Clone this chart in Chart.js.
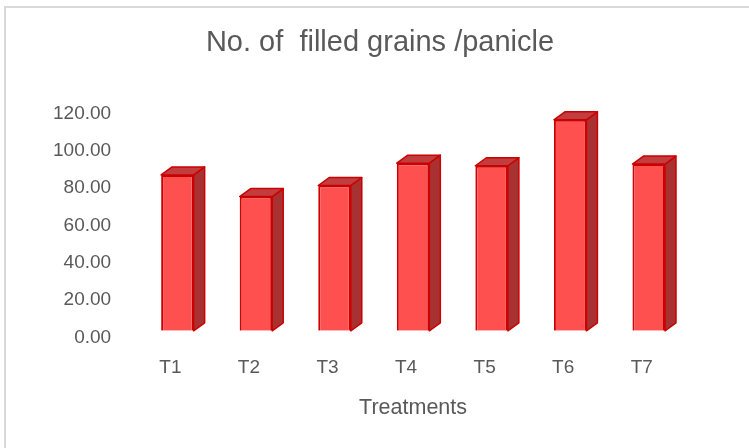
<!DOCTYPE html>
<html>
<head>
<meta charset="utf-8">
<script src="https://cdn.jsdelivr.net/npm/chart.js@4/dist/chart.umd.min.js"></script>
<style>
  html, body { margin: 0; padding: 0; background: #fff; }
  #wrap { position: relative; width: 749px; height: 448px; }
</style>
</head>
<body>
<div id="wrap"><canvas id="myChart" width="749" height="448"></canvas></div>
<script>
var categories = ["T1", "T2", "T3", "T4", "T5", "T6", "T7"];
var grains = [83.6, 72.0, 77.9, 89.9, 88.5, 113.1, 89.4];
var yTicks = [0, 20, 40, 60, 80, 100, 120];

var frontColor = 'rgb(255,80,80)';
var sideColor = 'rgb(168,50,50)';
var topColor = 'rgb(194,62,62)';
var edgeColor = 'rgb(204,0,0)';
var textColor = '#595959';
var font = '"Liberation Sans", Arial, sans-serif';

// fake 3d: side and top faces behind each front face
var box3d = {
    id: 'box3d',
    beforeDatasetsDraw: function (chart) {
        var ctx = chart.ctx;
        var dx = 11, dy = 8;
        chart.getDatasetMeta(0).data.forEach(function (bar) {
            var l = bar.x - bar.width / 2;
            var r = bar.x + bar.width / 2;
            var t = bar.y, b = bar.base;
            ctx.save();
            ctx.lineWidth = 1.5;
            ctx.strokeStyle = edgeColor;
            ctx.lineJoin = 'round';

            ctx.beginPath();
            ctx.moveTo(r, t);
            ctx.lineTo(r + dx, t - dy);
            ctx.lineTo(r + dx, b - dy);
            ctx.lineTo(r, b);
            ctx.closePath();
            ctx.fillStyle = sideColor;
            ctx.fill();
            ctx.stroke();

            ctx.beginPath();
            ctx.moveTo(l, t);
            ctx.lineTo(l + dx, t - dy);
            ctx.lineTo(r + dx, t - dy);
            ctx.lineTo(r, t);
            ctx.closePath();
            ctx.fillStyle = topColor;
            ctx.fill();
            ctx.stroke();
            ctx.restore();
        });
    }
};

var frame = {
    id: 'frame',
    afterLayout: function (chart) {
        // title sits a bit right of the plot centre in the original
        if (chart.titleBlock) {
            chart.titleBlock.left += 23;
            chart.titleBlock.right += 23;
        }
    },
    beforeDraw: function (chart) {
        var ctx = chart.ctx;
        ctx.save();
        ctx.strokeStyle = '#D9D9D9';
        ctx.lineWidth = 2;
        ctx.beginPath();
        ctx.moveTo(5, chart.height);
        ctx.lineTo(5, 7);
        ctx.lineTo(chart.width, 7);
        ctx.stroke();
        ctx.restore();
    }
};

new Chart(document.getElementById('myChart'), {
    type: 'bar',
    data: {
        labels: categories,
        datasets: [{
            data: grains,
            backgroundColor: frontColor,
            borderColor: edgeColor,
            borderWidth: 2,
            barPercentage: 0.414,
            categoryPercentage: 1
        }]
    },
    options: {
        responsive: false,
        animation: false,
        layout: { padding: { left: 26, right: 61, top: 0, bottom: 23 } },
        plugins: {
            legend: { display: false },
            tooltip: { enabled: false },
            title: {
                display: true,
                text: 'No. of  filled grains /panicle',
                color: textColor,
                font: { family: font, size: 29, weight: 'normal' },
                padding: { top: 26, bottom: 46.2 }
            }
        },
        scales: {
            x: {
                grid: { display: false, drawTicks: false },
                border: { display: false },
                ticks: {
                    color: textColor,
                    font: { family: font, size: 19 },
                    padding: 26,
                    labelOffset: -7
                },
                title: {
                    display: true,
                    text: 'Treatments',
                    color: textColor,
                    font: { family: font, size: 21.5 },
                    padding: { top: -10.4, bottom: 4 }
                }
            },
            y: {
                min: 0,
                max: 120,
                afterBuildTicks: function (axis) {
                    axis.ticks = yTicks.map(function (v) { return { value: v }; });
                },
                grid: { display: false, drawTicks: false },
                border: { display: false },
                ticks: {
                    color: textColor,
                    font: { family: font, size: 19 },
                    padding: 27,
                    labelOffset: 6.5,
                    callback: function (v) { return Number(v).toFixed(2); }
                }
            }
        }
    },
    plugins: [frame, box3d]
});
</script>
</body>
</html>
